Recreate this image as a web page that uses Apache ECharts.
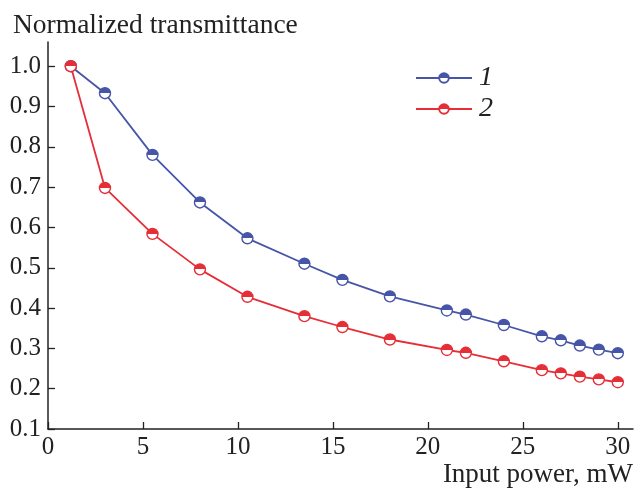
<!DOCTYPE html>
<html>
<head>
<meta charset="utf-8">
<script src="https://cdn.jsdelivr.net/npm/echarts@6/dist/echarts.min.js"></script>
<style>
  html, body { margin: 0; padding: 0; background: #fff; }
  #chart { width: 636px; height: 489px; }
</style>
</head>
<body>
<div id="chart"></div>
<script>
// input power, mW
const powerX = [1.2, 3, 5.5, 8, 10.5, 13.5, 15.5, 18, 21, 22, 24, 26, 27, 28, 29, 30]
// normalized transmittance, curve 1 (blue) and curve 2 (red)
const curve1 = [1.0, 0.933, 0.78, 0.662, 0.573, 0.51, 0.47, 0.429, 0.394, 0.384, 0.358, 0.33, 0.32, 0.307, 0.297, 0.288]
const curve2 = [1.0, 0.698, 0.584, 0.496, 0.428, 0.38, 0.353, 0.322, 0.296, 0.289, 0.268, 0.246, 0.238, 0.23, 0.223, 0.216]
const xTicks = [0, 5, 10, 15, 20, 25, 30]
const yTicks = [0.1, 0.2, 0.3, 0.4, 0.5, 0.6, 0.7, 0.8, 0.9, 1.0]
const seriesNames = ['1', '2']

const BLUE = '#4655a8'
const RED = '#e62e36'
const FONT = 'Liberation Serif'

// top half filled, bottom half white
function halfFill(color) {
  return {
    type: 'linear', x: 0, y: 0, x2: 0, y2: 1,
    colorStops: [
      { offset: 0, color: color },
      { offset: 0.5, color: color },
      { offset: 0.5, color: '#fff' },
      { offset: 1, color: '#fff' }
    ]
  }
}

function pairs(ys) {
  return powerX.map((x, i) => [x, ys[i]])
}

function makeSeries(name, ys, color) {
  return {
    name: name,
    type: 'line',
    data: pairs(ys),
    symbol: 'circle',
    symbolSize: 11,
    showAllSymbol: true,
    lineStyle: { color: color, width: 1.8 },
    itemStyle: { color: halfFill(color), borderColor: color, borderWidth: 1.4 },
    emphasis: { disabled: true },
    animation: false
  }
}

const axisTitleStyle = { fontFamily: FONT, fontSize: 27.5, fontWeight: 'normal', color: '#222' }

const chart = echarts.init(document.getElementById('chart'))
chart.setOption({
  backgroundColor: '#fff',
  // axis titles
  title: [
    { text: 'Normalized transmittance', left: 8, top: 7, textStyle: axisTitleStyle },
    {
      text: 'Input power, mW', right: 3, top: 461, padding: 0,
      textStyle: Object.assign({}, axisTitleStyle, { fontSize: 27 })
    }
  ],
  legend: {
    orient: 'vertical',
    left: 410,
    top: 59,
    itemWidth: 56,
    itemHeight: 12,
    itemGap: 3,
    data: seriesNames,
    textStyle: { fontFamily: FONT, fontSize: 28, fontStyle: 'italic', color: '#222', padding: [0, 0, 0, 2] }
  },
  grid: {
    left: 48,
    right: 3,
    top: 42,
    bottom: 60,
    containLabel: false,
    outerBoundsMode: 'none'
  },
  xAxis: {
    type: 'value',
    min: 0,
    max: 30.8,
    splitLine: { show: false },
    axisLine: { lineStyle: { color: '#222', width: 1.5 } },
    axisTick: { inside: true, length: 7, customValues: xTicks, lineStyle: { color: '#222', width: 1.3 } },
    axisLabel: { customValues: xTicks, margin: 6, fontFamily: FONT, fontSize: 25, color: '#222' }
  },
  yAxis: {
    type: 'value',
    min: 0.1,
    max: 1.06,
    splitLine: { show: false },
    axisLine: { lineStyle: { color: '#222', width: 1.5 } },
    axisTick: { inside: true, length: 7, customValues: yTicks, lineStyle: { color: '#222', width: 1.3 } },
    axisLabel: {
      customValues: yTicks,
      margin: 7,
      fontFamily: FONT,
      fontSize: 25,
      color: '#222',
      formatter: v => v.toFixed(1)
    }
  },
  series: [
    makeSeries(seriesNames[0], curve1, BLUE),
    makeSeries(seriesNames[1], curve2, RED)
  ]
})
</script>
</body>
</html>
